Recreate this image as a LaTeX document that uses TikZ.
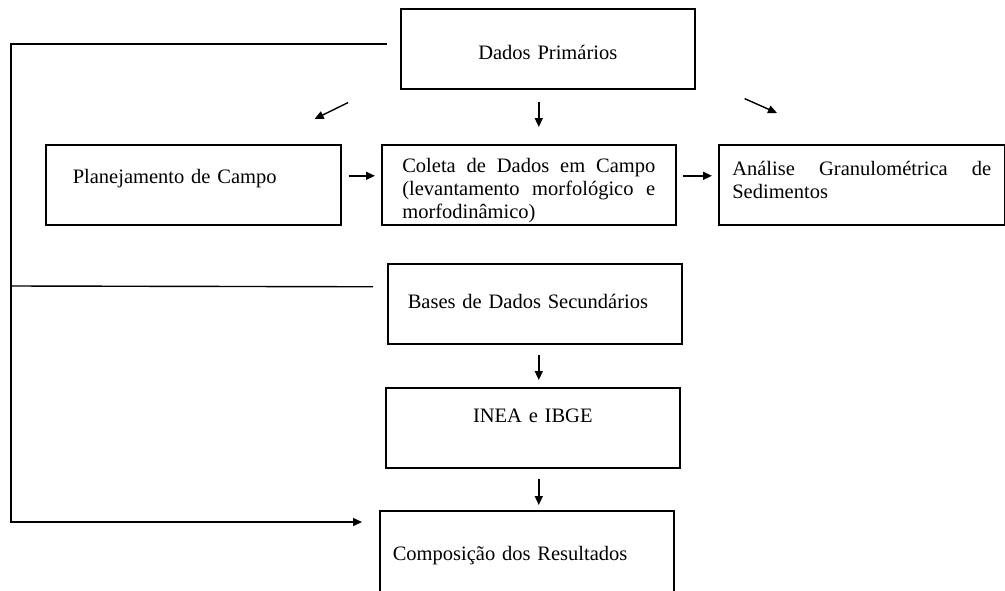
\documentclass[tikz,border=0pt]{standalone}
\usepackage{fontspec}
\setmainfont{Liberation Serif}
\usetikzlibrary{arrows.meta,calc}
\begin{document}
\begin{tikzpicture}[x=1pt, y=-1pt,
    box/.style={draw, line width=1.6pt, anchor=north west, inner ysep=0pt, inner xsep=0pt,
        font=\fontsize{20.5}{23}\selectfont},
    arr/.style={line width=1.4pt, -{Triangle[length=9pt,width=8pt]}},
    link/.style={line width=1.4pt}]
    \useasboundingbox (0,0) rectangle (1005,590);
    \clip (0,0) rectangle (1005,590);
    \node[box, text width=294pt, align=center, text height=51pt, text depth=29pt] (dados) at (400,8) {Dados Primários};
    \node[box, text width=241pt, inner xsep=27pt, align=left, text height=39pt, text depth=41pt] (planejamento) at (45,144) {Planejamento de Campo};
    \node[box, minimum width=294pt, text width=253pt, align=justify, text height=28pt, text depth=52pt] (coleta) at (381,144) {Coleta de Dados em Campo\linebreak (levantamento morfológico e\linebreak morfodinâmico)};
    \node[box, minimum width=286pt, text width=259pt, align=justify, text height=31pt, text depth=49pt] (analise) at (718,144) {Análise Granulométrica de\linebreak Sedimentos};
    \node[box, text width=254pt, inner xsep=20pt, align=left, text height=45pt, text depth=35pt] (bases) at (387,263) {Bases de Dados Secundários};
    \node[box, text width=294pt, align=center, text height=35pt, text depth=45pt] (inea) at (385,387) {INEA e IBGE};
    \node[box, text width=268pt, inner xsep=13pt, align=left, text height=50pt, text depth=40pt] (composicao) at (379,510) {Composição dos Resultados};
    \coordinate (rail) at (11,286);
    \draw[arr, shorten <=12pt, shorten >=17pt] ([xshift=-9pt]dados.south) -- ([xshift=10pt]coleta.north);
    \draw[arr] ($(dados.south west)+(-52,13)$) -- ($(planejamento.north east)+(-27,-25)$);
    \draw[arr] ($(dados.south east)+(49,9)$) -- ($(analise.north west)+(59,-31)$);
    \draw[arr, shorten <=7pt, shorten >=6pt] ([yshift=9pt]planejamento.east) -- ([yshift=9pt]coleta.west);
    \draw[arr, shorten <=6pt, shorten >=6pt] ([yshift=9pt]coleta.east) -- ([yshift=9pt]analise.west);
    \draw[arr, shorten <=10pt, shorten >=7pt] ([xshift=4pt]bases.south) -- ([xshift=6pt]inea.north);
    \draw[arr, shorten <=10pt, shorten >=5pt] ([xshift=6pt]inea.south) -- ([xshift=12pt]composicao.north);
    \draw[arr, shorten <=13pt, shorten >=17pt] ([yshift=5pt]dados.west) -| (rail) |- ([yshift=-12pt]composicao.north west);
    \draw[link, shorten <=14pt] ([yshift=17pt]bases.west) -- (rail);
\end{tikzpicture}
\end{document}
